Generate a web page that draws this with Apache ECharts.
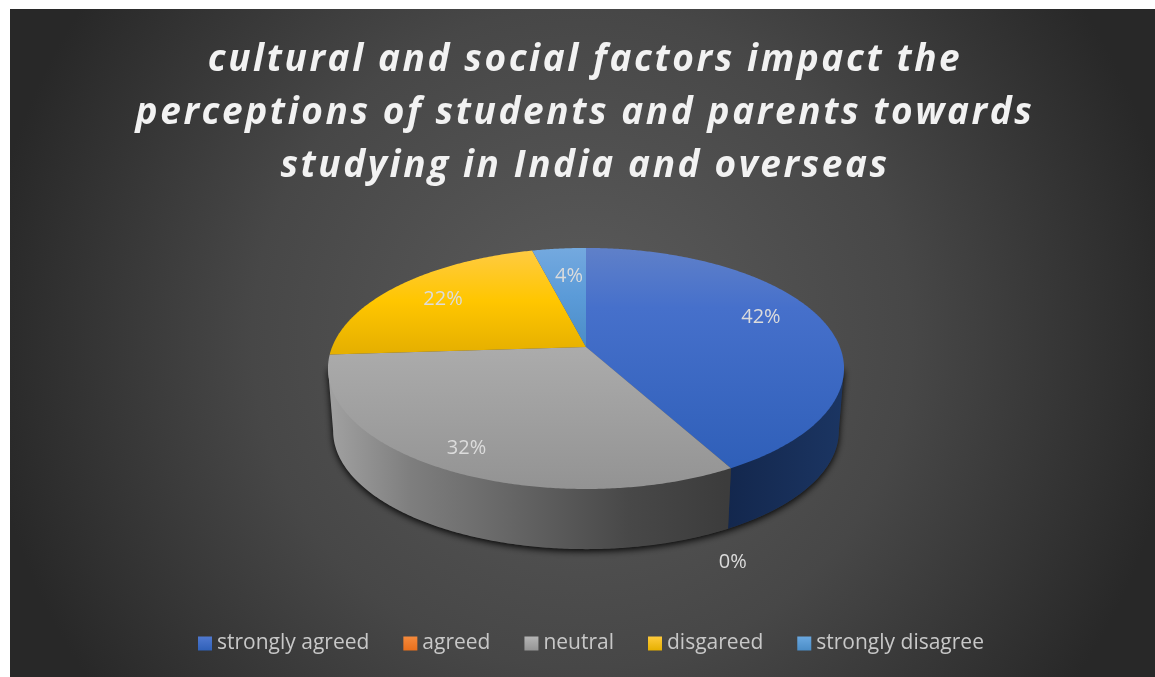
<!DOCTYPE html>
<html>
<head>
<meta charset="utf-8">
<style>html,body{margin:0;padding:0;background:#fff}#main{width:1155px;height:677px}</style>
<script src="https://cdn.jsdelivr.net/npm/echarts@6/dist/echarts.min.js"></script>
</head>
<body>
<div id="main"></div>
<script>
// Survey responses, percent of respondents
var categories = ['strongly agreed', 'agreed', 'neutral', 'disgareed', 'strongly disagree'];
var shares = [42, 0, 32, 22, 4];
var titleText = 'cultural and social factors impact the\nperceptions of students and parents towards\nstudying in India and overseas';

// Tilted-disc projection: circle on a plane seen in perspective
var DISC = { cx: 586, cy: 347, ax: 253.9, by: 116.7, persp: 0.178, baseScale: 0.98, depth: 63 };
var LIN = echarts.graphic.LinearGradient;
// Bearings where the top ellipse reaches its widest point on each side
var WIDEST_RIGHT = 100.25, WIDEST_LEFT = 259.75;

function project(deg, r, lowered) {
  var t = deg * Math.PI / 180;
  var u = r * Math.sin(t), v = -r * Math.cos(t), w = 1 - DISC.persp * v;
  var x = DISC.ax * u / w, y = DISC.by * v / w;
  if (lowered) {
    x *= DISC.baseScale;
    y = y * DISC.baseScale + DISC.depth;
  }
  return [DISC.cx + x, DISC.cy + y];
}
function arc(from, to, r, lowered) {
  var pts = [], n = Math.max(1, Math.ceil(Math.abs(to - from) * 2));
  for (var i = 0; i <= n; i++) pts.push(project(from + (to - from) * i / n, r, lowered));
  return pts;
}
function sliceRange(i) {
  var total = shares.reduce(function (a, b) { return a + b; }, 0), before = 0;
  for (var k = 0; k < i; k++) before += shares[k];
  return [before / total * 360, (before + shares[i]) / total * 360];
}
// Vertical gradient spanning the whole disc, in canvas pixels
function faceFill(stops) {
  return new LIN(0, 248, 0, 489, stops, true);
}
var faceFills = [
  faceFill([{ offset: 0, color: '#5f80c9' }, { offset: 0.25, color: '#4670cb' }, { offset: 1, color: '#2c5db6' }]),
  '#ed7d31',
  faceFill([{ offset: 0, color: '#b4b4b4' }, { offset: 0.42, color: '#ababab' }, { offset: 1, color: '#939393' }]),
  faceFill([{ offset: 0, color: '#ffcb45' }, { offset: 0.22, color: '#ffc600' }, { offset: 0.43, color: '#e6b000' }]),
  faceFill([{ offset: 0, color: '#74a9df' }, { offset: 0.2, color: '#5b9bd8' }, { offset: 0.42, color: '#4a8cc6' }])
];
var legendFills = [
  ['#5079d0', '#2f60b8'], ['#f58a3c', '#e96f1c'], ['#b5b5b5', '#949494'], ['#ffcb3c', '#e6b000'], ['#6aa8e0', '#4a8cc6']
];
// Radius and angular nudge of each percent label on the disc plane
var labelPlacement = [[0.775, -6.7], [1.45, 11.3], [0.848, 0], [0.759, 0.7], [0.697, 1]];

var sliceSeries = categories.map(function (name, i) {
  return {
    type: 'custom',
    name: name,
    coordinateSystem: 'none',
    z: 3,
    silent: true,
    animation: false,
    itemStyle: { color: new LIN(0, 0, 0, 1, [{ offset: 0, color: legendFills[i][0] }, { offset: 1, color: legendFills[i][1] }]) },
    data: [[shares[i]]],
    renderItem: function () {
      var range = sliceRange(i), mid = (range[0] + range[1]) / 2;
      var place = labelPlacement[i];
      var at = project(mid + place[1], place[0], false);
      var children = [];
      if (shares[i] > 0) {
        children.push({
          type: 'polygon',
          shape: { points: [[DISC.cx, DISC.cy]].concat(arc(range[0], range[1], 1, false)) },
          style: { fill: faceFills[i] }
        });
      }
      children.push({
        type: 'text', z2: 5,
        style: {
          text: shares[i] + '%', x: at[0], y: at[1] + 1, align: 'center', verticalAlign: 'middle',
          fill: '#dcdcdc', font: '20px "Open Sans"'
        }
      });
      return { type: 'group', children: children };
    }
  };
});

// Rim of the disc with its soft cast shadow, drawn beneath the slice faces
var rimSeries = {
  type: 'custom',
  coordinateSystem: 'none',
  z: 2,
  silent: true,
  animation: false,
  data: [[shares[0]]],
  renderItem: function () {
    var end = sliceRange(0)[1];
    // The upper edge runs just inside the face so only the lower silhouette shows
    function rimPoints(a, b) {
      return [project(a, 1, false)].concat(arc(a, b, 0.97, false), [project(b, 1, false)], arc(b, a, 1, true));
    }
    function wall(a, b, fill) {
      return { type: 'polygon', shape: { points: rimPoints(a, b) }, style: { fill: fill } };
    }
    var shadow = {
      type: 'polygon',
      shape: { points: rimPoints(WIDEST_RIGHT, WIDEST_LEFT) },
      style: { fill: '#333', shadowColor: 'rgba(0,0,0,0.95)', shadowBlur: 7, shadowOffsetY: 2 }
    };
    var blueSide = new LIN(727, 0, 842, 0, [{ offset: 0, color: '#13274d' }, { offset: 1, color: '#1b3562' }], true);
    var greySide = new LIN(332, 0, 727, 0, [
      { offset: 0, color: '#a0a0a0' }, { offset: 0.2, color: '#7e7e7e' }, { offset: 0.45, color: '#666666' },
      { offset: 0.75, color: '#484848' }, { offset: 1, color: '#3c3c3c' }
    ], true);
    return {
      type: 'group',
      children: [shadow, wall(WIDEST_RIGHT, end, blueSide), wall(end, WIDEST_LEFT, greySide)]
    };
  }
};

var chart = echarts.init(document.getElementById('main'));
// The heading sits on its own canvas layer so only it gets tracked-out lettering
var titleLayer = chart.getZr().painter.getLayer(1);
if (titleLayer && titleLayer.ctx) titleLayer.ctx.letterSpacing = '2.6px';

chart.setOption({
  animation: false,
  backgroundColor: '#ffffff',
  title: {
    text: titleText,
    left: 580,
    top: 29,
    textAlign: 'center',
    zlevel: 1,
    textStyle: {
      color: '#f2f2f2',
      fontFamily: 'Open Sans',
      fontStyle: 'italic',
      fontWeight: 'bold',
      fontSize: 37,
      lineHeight: 53
    }
  },
  legend: {
    data: categories,
    left: 193,
    top: 628,
    icon: 'rect',
    itemWidth: 14,
    itemHeight: 14,
    itemGap: 34,
    selectedMode: false,
    textStyle: { color: '#c8c8c8', fontFamily: 'Open Sans', fontSize: 21 }
  },
  graphic: [{
    type: 'rect',
    z: -10,
    silent: true,
    shape: { x: 10, y: 9, width: 1145, height: 668 },
    style: {
      fill: new echarts.graphic.RadialGradient(582, 338, 600, [
        { offset: 0, color: '#5c5c5c' }, { offset: 0.55, color: '#474747' }, { offset: 1, color: '#282828' }
      ], true)
    }
  }],
  series: [rimSeries].concat(sliceSeries)
});
</script>
</body>
</html>
